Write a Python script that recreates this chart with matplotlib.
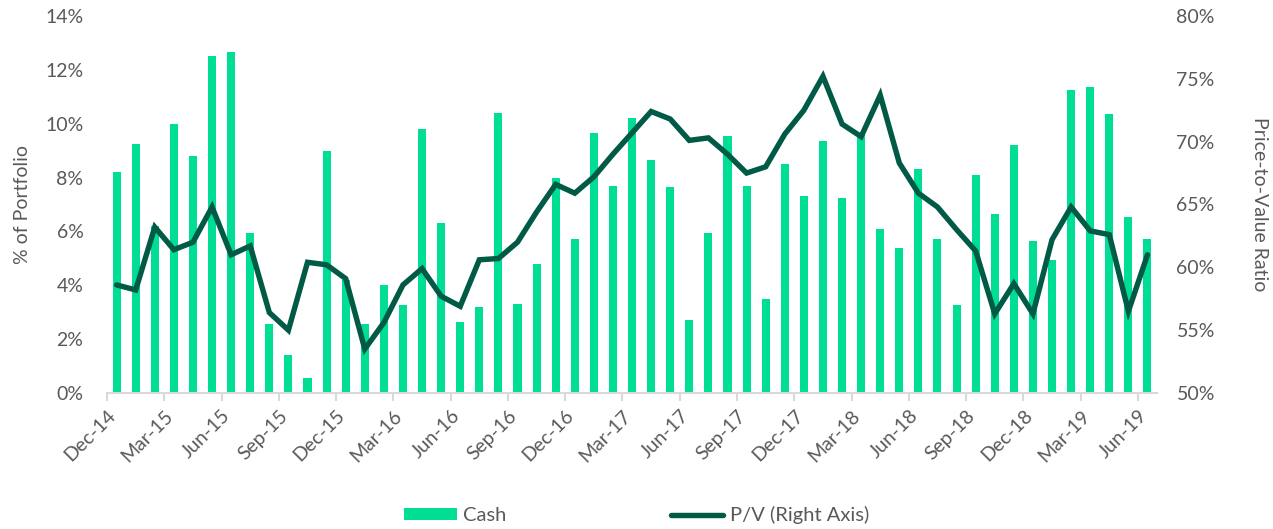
import pandas as pd
import matplotlib
matplotlib.use('Agg')
from matplotlib import pyplot as plt
from matplotlib.ticker import FuncFormatter

plt.rcParams['font.family'] = ['Lato', 'DejaVu Sans']

months = pd.date_range('2014-12-01', '2019-06-01', freq='MS')
month_labels = [m.strftime('%b-%y') for m in months]

# cash as % of portfolio
cash = [8.2, 9.25, 6.2, 10.0, 8.8, 12.5, 12.65, 5.95, 2.55, 1.4,
        0.55, 9.0, 4.2, 2.55, 4.0, 3.25, 9.8, 6.3, 2.65, 3.2,
        10.4, 3.3, 4.8, 8.0, 5.7, 9.65, 7.7, 10.2, 8.65, 7.65,
        2.7, 5.95, 9.55, 7.7, 3.5, 8.5, 7.3, 9.35, 7.25, 9.6,
        6.1, 5.4, 8.3, 5.7, 3.25, 8.1, 6.65, 9.2, 5.65, 4.95,
        11.25, 11.35, 10.35, 6.55, 5.7]

# price-to-value ratio (%)
pv = [58.6, 58.2, 63.2, 61.4, 62.0, 64.8, 61.0, 61.7, 56.4, 55.0,
      60.4, 60.2, 59.1, 53.5, 55.6, 58.6, 59.9, 57.7, 56.9, 60.6,
      60.7, 62.0, 64.4, 66.6, 65.9, 67.2, 69.0, 70.7, 72.4, 71.8,
      70.1, 70.3, 69.0, 67.5, 68.0, 70.6, 72.5, 75.2, 71.4, 70.4,
      73.7, 68.3, 65.9, 64.8, 63.0, 61.3, 56.3, 58.7, 56.3, 62.2,
      64.8, 62.9, 62.6, 56.5, 61.0]

bar_color = '#00DE96'
line_color = '#005A46'
text_color = '#595959'

fig = plt.figure(figsize=(12.73, 5.29), dpi=100)
ax = fig.add_axes([0.0841, 0.2571, 0.8248, 0.7127])
ax2 = ax.twinx()

x = list(range(len(months)))
bars = ax.bar(x, cash, width=0.42, color=bar_color, label='Cash', zorder=2)
line, = ax2.plot(x, pv, color=line_color, linewidth=3.9, label='P/V (Right Axis)',
                 solid_joinstyle='miter', solid_capstyle='round')

ax.set_xlim(-0.5, len(months) - 0.5)
ax.set_ylim(0, 14)
ax.set_yticks(range(0, 15, 2))
ax.yaxis.set_major_formatter(FuncFormatter(lambda v, p: f'{v:.0f}%'))
ax2.set_ylim(50, 80)
ax2.set_yticks(range(50, 81, 5))
ax2.yaxis.set_major_formatter(FuncFormatter(lambda v, p: f'{v:.0f}%'))

tick_idx = list(range(0, len(months), 3))
ax.set_xticks([i - 0.5 for i in tick_idx])
ax.set_xticklabels([month_labels[i] for i in tick_idx], rotation=45, ha='right',
                   rotation_mode='anchor')

for a in (ax, ax2):
    for s in ['top', 'left', 'right', 'bottom']:
        a.spines[s].set_visible(False)
ax.spines['bottom'].set_visible(True)
ax.spines['bottom'].set_color('#D9D9D9')
ax.spines['bottom'].set_linewidth(1.5)

ax.tick_params(axis='x', colors='#D9D9D9', length=6, width=1.5, labelsize=14,
               labelcolor=text_color, pad=4)
ax.tick_params(axis='y', length=0, labelsize=14, labelcolor=text_color, pad=17)
ax2.tick_params(axis='y', length=0, labelsize=14, labelcolor=text_color, pad=14)

ax.set_ylabel('% of Portfolio', fontsize=14, color=text_color, labelpad=10)
ax2.set_ylabel('Price-to-Value Ratio', fontsize=14, color=text_color, rotation=-90,
               labelpad=38)

fig.legend(handles=[bars, line], labels=['Cash', 'P/V (Right Axis)'], loc='lower center',
           bbox_to_anchor=(0.5, -0.025), ncol=2, frameon=False, fontsize=14.5,
           labelcolor=text_color, handlelength=2.6, handleheight=0.5,
           columnspacing=8.2, handletextpad=0.3)

fig.savefig('out.png', dpi=100)
